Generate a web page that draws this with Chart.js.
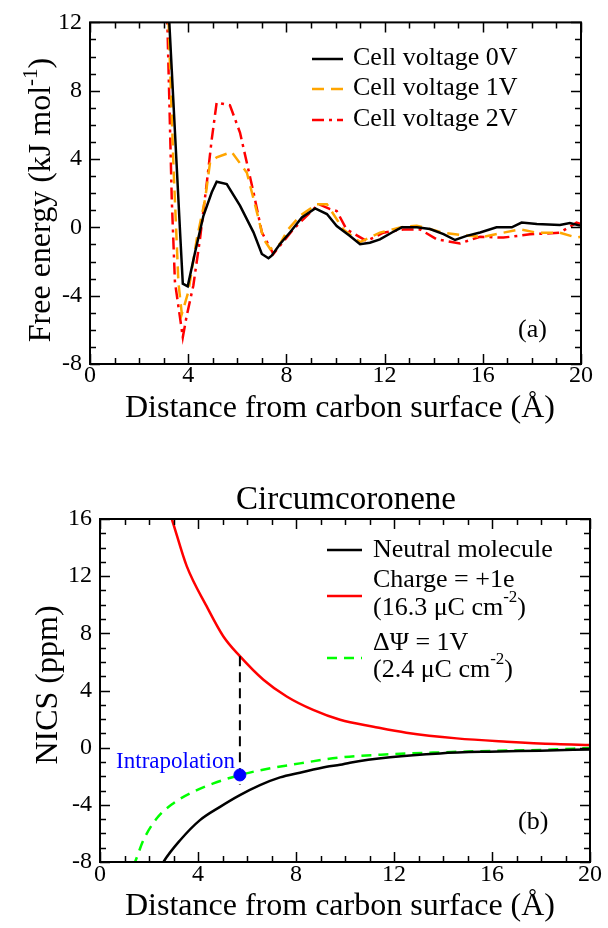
<!DOCTYPE html>
<html>
<head>
<meta charset="utf-8">
<script src="https://cdn.jsdelivr.net/npm/chart.js@4"></script>
<style>
  body { margin: 0; background: #fff; }
  .panel { position: absolute; left: 0; width: 608px; }
</style>
</head>
<body>
<div class="panel" style="top:0;height:440px"><canvas id="chartA" width="608" height="440"></canvas></div>
<div class="panel" style="top:440px;height:488px"><canvas id="chartB" width="608" height="488"></canvas></div>
<script>
// Panel (a): free energy profiles
const v0X = [3.1, 3.23, 3.46, 3.67, 3.78, 3.98, 4.28, 4.62, 4.96, 5.16, 5.57, 6.11, 6.66, 7.0, 7.27, 7.4, 7.74, 8.15, 8.63, 9.17, 9.65, 10.05, 10.59, 11.0, 11.4, 11.81, 12.3, 12.7, 13.31, 13.85, 14.4, 14.87, 15.34, 15.89, 16.56, 17.18, 17.58, 18.2, 19.14, 19.55, 19.96];
const v0Y = [15.5, 12, 5.6, -0.3, -3.3, -3.45, -1.46, 0.68, 2.05, 2.67, 2.53, 1.27, -0.29, -1.56, -1.81, -1.66, -0.97, -0.29, 0.58, 1.11, 0.78, 0.08, -0.51, -0.99, -0.9, -0.7, -0.3, 0.0, 0.0, -0.1, -0.4, -0.74, -0.5, -0.3, 0.0, 0.0, 0.28, 0.2, 0.14, 0.26, 0.1];

const v1X = [3.1, 3.2, 3.4, 3.6, 3.74, 4.0, 4.35, 4.69, 4.89, 5.16, 5.77, 6.39, 6.8, 7.07, 7.34, 7.74, 8.08, 8.56, 9.24, 9.65, 10.32, 11.0, 11.81, 12.63, 13.31, 14.39, 15.2, 16.02, 16.84, 17.52, 18.2, 19.14, 19.82, 20];
const v1Y = [15.5, 12, 3.6, -3.2, -5.07, -3.8, -0.68, 1.66, 3.8, 4.1, 4.42, 3.2, 0.88, -0.68, -1.27, -0.97, -0.1, 0.68, 1.36, 1.36, -0.12, -0.86, -0.31, 0.0, 0.1, -0.31, -0.47, -0.55, -0.31, -0.12, -0.31, -0.31, -0.6, -0.55];

const v2X = [3.05, 3.15, 3.23, 3.33, 3.46, 3.78, 3.94, 4.21, 4.48, 4.76, 4.96, 5.16, 5.7, 6.11, 6.66, 7.0, 7.47, 7.74, 8.29, 8.83, 9.31, 9.78, 10.05, 10.45, 11.27, 11.95, 12.76, 13.44, 14.12, 15.07, 15.89, 16.84, 17.92, 19.14, 19.82, 20];
const v2Y = [15.5, 12, 7.5, 1.66, -3.2, -6.43, -5.17, -3.4, -0.68, 2.63, 5.17, 7.31, 7.15, 5.55, 2.05, -0.29, -1.56, -1.07, -0.1, 0.68, 1.36, 1.07, 0.96, -0.12, -0.8, -0.31, -0.12, -0.12, -0.7, -0.94, -0.55, -0.6, -0.41, -0.31, 0.28, 0.2];

// Panel (b): NICS vs distance
const neutralX = [2.5, 2.59, 3.27, 4.08, 4.9, 5.71, 6.53, 7.35, 8.16, 9.25, 9.8, 10.2, 11.84, 13.88, 15.9, 17.96, 20];
const neutralY = [-8.3, -8.0, -6.48, -5.07, -4.14, -3.32, -2.62, -2.08, -1.75, -1.33, -1.2, -1.05, -0.67, -0.4, -0.28, -0.21, -0.12];
const chargeX = [2.85, 2.93, 3.54, 4.35, 5.03, 5.71, 6.67, 7.62, 8.7, 9.8, 11.16, 12.5, 14.56, 16.6, 18.6, 20];
const chargeY = [16.4, 16, 12.7, 9.9, 7.8, 6.4, 4.75, 3.58, 2.64, 1.95, 1.47, 1.05, 0.65, 0.42, 0.25, 0.19];
const voltX = [1.35, 1.43, 1.77, 2.31, 2.99, 3.81, 4.63, 5.71, 6.8, 8.16, 9.8, 11.84, 13.88, 15.9, 17.96, 20];
const voltY = [-8.3, -8.0, -6.48, -4.96, -3.9, -3.09, -2.5, -1.91, -1.49, -1.1, -0.68, -0.46, -0.33, -0.23, -0.16, -0.02];
const intraX = [5.71];
const intraY = [-1.91];
const guideX = [5.71, 5.71];
const guideY = [6.4, -2.6];

const serif = '"Liberation Serif", "Times New Roman", serif';
const pts = (xs, ys) => xs.map((x, i) => ({ x: x, y: ys[i] }));

// text helper with superscript pieces: parts = [[text, isSup], ...]
function drawRich(ctx, parts, x, y, size, align) {
  let total = 0;
  parts.forEach(p => {
    ctx.font = (p[1] ? Math.round(size * 0.65) : size) + 'px ' + serif;
    total += ctx.measureText(p[0]).width;
  });
  let cx = align === 'center' ? x - total / 2 : x;
  ctx.textAlign = 'left';
  parts.forEach(p => {
    ctx.font = (p[1] ? Math.round(size * 0.65) : size) + 'px ' + serif;
    ctx.fillText(p[0], cx, p[1] ? y - size * 0.42 : y);
    cx += ctx.measureText(p[0]).width;
  });
}

function frame(chart) {
  const ctx = chart.ctx, a = chart.chartArea, x = chart.scales.x, y = chart.scales.y;
  ctx.save();
  ctx.strokeStyle = '#000';
  ctx.lineWidth = 2;
  ctx.strokeRect(a.left, a.top, a.right - a.left, a.bottom - a.top);
  ctx.lineWidth = 1.5;
  ctx.beginPath();
  for (let v = x.min; v <= x.max; v++) {
    const px = Math.round(x.getPixelForValue(v)) + 0.5;
    const len = v % 4 === 0 ? 10 : 6;
    ctx.moveTo(px, a.bottom); ctx.lineTo(px, a.bottom - len);
    ctx.moveTo(px, a.top); ctx.lineTo(px, a.top + len);
  }
  for (let v = y.min; v <= y.max; v++) {
    const py = Math.round(y.getPixelForValue(v)) + 0.5;
    const len = v % 4 === 0 ? 10 : 6;
    ctx.moveTo(a.left, py); ctx.lineTo(a.left + len, py);
    ctx.moveTo(a.right, py); ctx.lineTo(a.right - len, py);
  }
  ctx.stroke();
  ctx.restore();
}

function legendLine(ctx, x1, x2, y, color, dash) {
  ctx.save();
  ctx.strokeStyle = color;
  ctx.lineWidth = 2.5;
  ctx.setLineDash(dash);
  ctx.beginPath();
  ctx.moveTo(x1, y); ctx.lineTo(x2, y);
  ctx.stroke();
  ctx.restore();
}

const decorA = {
  id: 'decorA',
  afterDraw(chart) {
    frame(chart);
    const ctx = chart.ctx;
    ctx.save();
    ctx.fillStyle = '#000';
    ctx.textBaseline = 'alphabetic';
    drawRich(ctx, [['Distance from carbon surface (Å)', false]], 340, 417, 32, 'center');
    ctx.save();
    ctx.translate(50, 200);
    ctx.rotate(-Math.PI / 2);
    drawRich(ctx, [['Free energy (kJ mol', false], ['-1', true], [')', false]], 0, 0, 32, 'center');
    ctx.restore();
    legendLine(ctx, 312, 343, 59, '#000', []);
    legendLine(ctx, 312, 343, 89, '#FFA500', [12, 7]);
    legendLine(ctx, 312, 343, 120, '#FF0000', [12, 5, 3, 5]);
    ctx.textBaseline = 'middle';
    ctx.font = '26px ' + serif;
    ctx.fillText('Cell voltage 0V', 353, 58);
    ctx.fillText('Cell voltage 1V', 353, 88);
    ctx.fillText('Cell voltage 2V', 353, 119);
    ctx.fillText('(a)', 518, 330);
    ctx.restore();
  }
};

const decorB = {
  id: 'decorB',
  afterDraw(chart) {
    frame(chart);
    const ctx = chart.ctx, x = chart.scales.x, y = chart.scales.y;
    ctx.save();
    ctx.fillStyle = '#000';
    ctx.textBaseline = 'alphabetic';
    drawRich(ctx, [['Distance from carbon surface (Å)', false]], 340, 475, 32, 'center');
    ctx.textBaseline = 'middle';
    drawRich(ctx, [['Circumcoronene', false]], 346, 60, 33, 'center');
    ctx.textBaseline = 'alphabetic';
    ctx.save();
    ctx.translate(57, 245);
    ctx.rotate(-Math.PI / 2);
    drawRich(ctx, [['NICS (ppm)', false]], 0, 0, 32, 'center');
    ctx.restore();
    legendLine(ctx, 327, 362, 110, '#000', []);
    legendLine(ctx, 327, 362, 156, '#FF0000', []);
    legendLine(ctx, 327, 362, 218, '#00FF00', [10, 7]);
    ctx.textBaseline = 'middle';
    drawRich(ctx, [['Neutral molecule', false]], 373, 110, 26, 'left');
    drawRich(ctx, [['Charge = +1e', false]], 373, 140, 26, 'left');
    drawRich(ctx, [['(16.3 μC cm', false], ['-2', true], [')', false]], 373, 168, 26, 'left');
    drawRich(ctx, [['ΔΨ = 1V', false]], 373, 203, 26, 'left');
    drawRich(ctx, [['(2.4 μC cm', false], ['-2', true], [')', false]], 373, 230, 26, 'left');
    drawRich(ctx, [['(b)', false]], 518, 382, 26, 'left');
    // annotation next to the interpolated point
    const px = x.getPixelForValue(intraX[0]), py = y.getPixelForValue(intraY[0]);
    ctx.fillStyle = '#0000FF';
    ctx.font = '23px ' + serif;
    ctx.textAlign = 'right';
    ctx.fillText('Intrapolation', px - 5, py - 13);
    ctx.restore();
  }
};

function axes(ymin, ymax, yWidth, xHeight, xPad) {
  const tickFont = { family: serif, size: 24 };
  return {
    x: {
      type: 'linear', min: 0, max: 20,
      ticks: { stepSize: 4, color: '#000', font: tickFont, padding: xPad, maxRotation: 0 },
      grid: { display: false, drawTicks: false },
      border: { display: false },
      afterFit(s) { s.height = xHeight; }
    },
    y: {
      min: ymin, max: ymax,
      ticks: { stepSize: 4, color: '#000', font: tickFont, padding: 8 },
      grid: { display: false, drawTicks: false },
      border: { display: false },
      afterFit(s) { s.width = yWidth; }
    }
  };
}

const baseOpts = {
  responsive: false,
  animation: false,
  plugins: { legend: { display: false }, tooltip: { enabled: false } },
  elements: { point: { radius: 0 }, line: { tension: 0 } }
};

new Chart(document.getElementById('chartA'), {
  type: 'line',
  data: {
    datasets: [
      { label: 'Cell voltage 0V', data: pts(v0X, v0Y), borderColor: '#000', borderWidth: 2.5 },
      { label: 'Cell voltage 1V', data: pts(v1X, v1Y), borderColor: '#FFA500', borderWidth: 2.5, borderDash: [12, 7] },
      { label: 'Cell voltage 2V', data: pts(v2X, v2Y), borderColor: '#FF0000', borderWidth: 2.5, borderDash: [12, 5, 3, 5] }
    ]
  },
  options: Object.assign({}, baseOpts, {
    layout: { padding: { top: 22, right: 27, left: 0, bottom: 0 } },
    scales: axes(-8, 12, 90, 76, -3)
  }),
  plugins: [decorA]
});

new Chart(document.getElementById('chartB'), {
  type: 'line',
  data: {
    datasets: [
      { label: 'Intrapolation', data: pts(intraX, intraY), showLine: false, pointRadius: 6, pointBackgroundColor: '#0000FF', pointBorderColor: '#0000FF' },
      { label: 'guide', data: pts(guideX, guideY), borderColor: '#000', borderWidth: 2, borderDash: [10, 6] },
      { label: 'Neutral molecule', data: pts(neutralX, neutralY), borderColor: '#000', borderWidth: 2.5, cubicInterpolationMode: 'monotone' },
      { label: 'Charge = +1e', data: pts(chargeX, chargeY), borderColor: '#FF0000', borderWidth: 2.5, cubicInterpolationMode: 'monotone' },
      { label: 'ΔΨ = 1V', data: pts(voltX, voltY), borderColor: '#00FF00', borderWidth: 2.5, borderDash: [10, 7], cubicInterpolationMode: 'monotone' }
    ]
  },
  options: Object.assign({}, baseOpts, {
    layout: { padding: { top: 79, right: 18, left: 0, bottom: 0 } },
    scales: axes(-8, 16, 100, 66, -2)
  }),
  plugins: [decorB]
});
</script>
</body>
</html>
